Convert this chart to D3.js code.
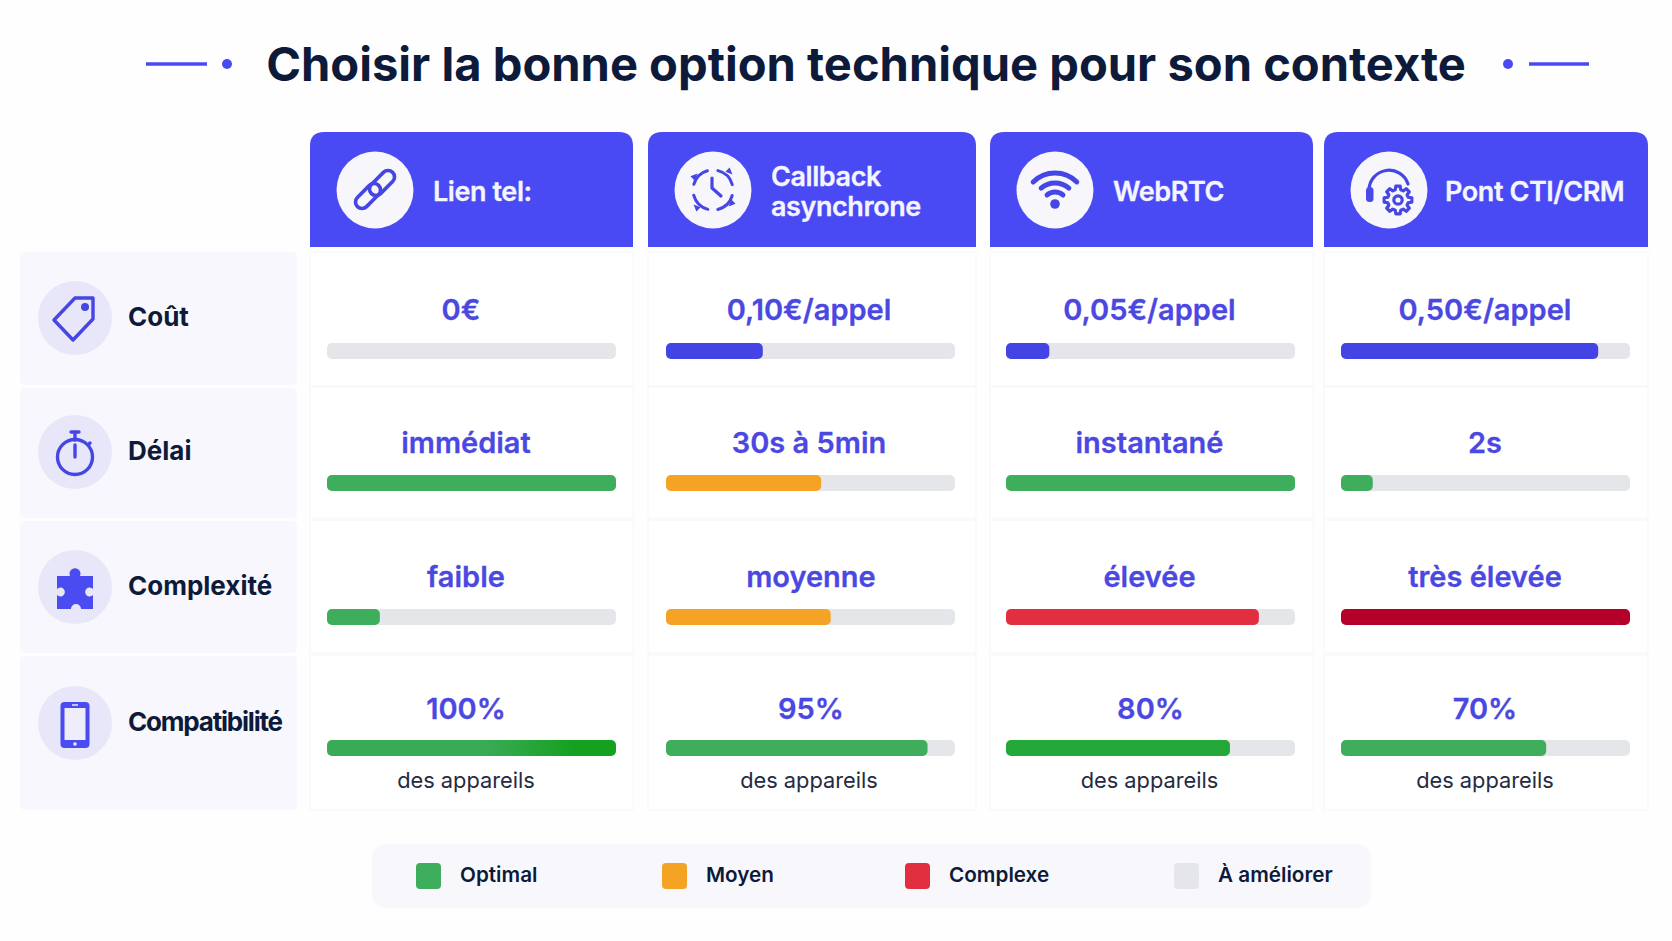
<!DOCTYPE html>
<html>
<head>
<meta charset="utf-8">
<script src="https://cdn.jsdelivr.net/npm/d3@7"></script>
<style>
  html, body { margin: 0; padding: 0; background: #fefefe; }
  svg { display: block; font-family: Inter, "Noto Sans", sans-serif; }
</style>
</head>
<body>
<svg id="chart"></svg>
<script>
const titleText = 'Choisir la bonne option technique pour son contexte'
const options = ['Lien tel:', 'Callback asynchrone', 'WebRTC', 'Pont CTI/CRM']
const criteria = ['Coût', 'Délai', 'Complexité', 'Compatibilité']

// what is written in each cell
const costLabels = ['0€', '0,10€/appel', '0,05€/appel', '0,50€/appel']
const delayLabels = ['immédiat', '30s à 5min', 'instantané', '2s']
const complexityLabels = ['faible', 'moyenne', 'élevée', 'très élevée']
const compatLabels = ['100%', '95%', '80%', '70%']
const compatNote = 'des appareils'

// bar lengths (share of the grey track)
const costLevels = [0, 0.335, 0.15, 0.89]
const delayLevels = [1, 0.537, 1, 0.11]
const complexityLevels = [0.183, 0.57, 0.875, 1]
const compatLevels = [1, 0.905, 0.775, 0.71]

const costStatus = ['cost', 'cost', 'cost', 'cost']
const delayStatus = ['optimal', 'moyen', 'optimal', 'optimal']
const complexityStatus = ['optimal', 'moyen', 'complexe', 'critique']
const compatStatus = ['optimalFade', 'optimal', 'optimalDark', 'optimal']

const legendNames = ['Optimal', 'Moyen', 'Complexe', 'À améliorer']
const legendStatus = ['optimal', 'moyen', 'complexe', 'track']

const rowsData = [
	{labels: costLabels, levels: costLevels, status: costStatus},
	{labels: delayLabels, levels: delayLevels, status: delayStatus},
	{labels: complexityLabels, levels: complexityLevels, status: complexityStatus},
	{labels: compatLabels, levels: compatLevels, status: compatStatus, note: compatNote}
]

const width = 1672
const height = 941
const indigo = '#4a4af4'
const valueBlue = '#4b48e2'
const ink = '#0d1a3a'

const svg = d3.select('#chart').attr('width', width).attr('height', height)

const color = d3.scaleOrdinal()
	.domain(['cost', 'optimal', 'optimalDark', 'optimalFade', 'moyen', 'complexe', 'critique', 'track'])
	.range(['#4343e6', '#3fae5c', '#25a83a', 'url(#fade)', '#f5a324', '#e22f40', '#b5002a', '#e5e6e9'])

const fade = svg.append('defs').append('linearGradient').attr('id', 'fade')
fade.selectAll('stop')
	.data([[0, '#3aab55'], [0.55, '#3aab55'], [0.85, '#16a01f'], [1, '#16a01f']])
	.join('stop')
	.attr('offset', d => d[0])
	.attr('stop-color', d => d[1])

// column and row layout, the table isn't regular so these are ordinal
const colLeft = d3.scaleOrdinal().domain(options).range([310, 648, 990, 1324])
const colRight = d3.scaleOrdinal().domain(options).range([633, 976, 1313, 1648])
const colText = d3.scaleOrdinal().domain(options).range([466, 809, 1149.5, 1485])
const trackLeft = d3.scaleOrdinal().domain(options).range([327, 666, 1006, 1341])
const rowTop = d3.scaleOrdinal().domain(criteria).range([252, 388, 521, 656])
const rowBottom = d3.scaleOrdinal().domain(criteria).range([385, 518, 653, 810])
const rowText = d3.scaleOrdinal().domain(criteria).range([309.5, 442.5, 576.5, 708.5])
const rowBar = d3.scaleOrdinal().domain(criteria).range([343, 475, 609, 740])
const rowIcon = d3.scaleOrdinal().domain(criteria).range([318, 452, 587, 723])
const barWidth = d3.scaleLinear().domain([0, 1]).range([0, 289])

// a few labels sit off the column centre in the original
const labelShift = {'0€': -5, 'moyenne': 2, '95%': 2, '80%': 1}

svg.append('rect').attr('width', width).attr('height', height).attr('fill', '#fefefe')

// title with its two little ornaments
svg.append('text')
	.attr('x', 866).attr('y', 64).attr('dy', '0.36em')
	.attr('text-anchor', 'middle')
	.attr('font-size', 47.1).attr('font-weight', 700).attr('fill', ink)
	.text(titleText)
const ornaments = svg.append('g').attr('fill', indigo).attr('stroke', indigo)
ornaments.selectAll('line')
	.data([[146, 207], [1529, 1589]])
	.join('line')
	.attr('x1', d => d[0]).attr('x2', d => d[1])
	.attr('y1', 64).attr('y2', 64)
	.attr('stroke-width', 3.5)
ornaments.selectAll('circle')
	.data([227, 1508])
	.join('circle')
	.attr('cx', d => d).attr('cy', 64).attr('r', 5).attr('stroke', 'none')

// header blocks
const headerTop = 132
const headerBottom = 247
const headerIconX = d3.scaleOrdinal().domain(options).range([375, 713, 1055, 1389])
const headerTextX = d3.scaleOrdinal().domain(options).range([433, 771, 1113, 1445])
const headerLines = [['Lien tel:'], ['Callback', 'asynchrone'], ['WebRTC'], ['Pont CTI/CRM']]

const headers = svg.append('g').selectAll('g')
	.data(options)
	.join('g')
headers.append('path')
	.attr('fill', indigo)
	.attr('d', d => {
		const x0 = colLeft(d), x1 = colRight(d), r = 14
		return `M${x0},${headerBottom}V${headerTop + r}Q${x0},${headerTop} ${x0 + r},${headerTop}H${x1 - r}Q${x1},${headerTop} ${x1},${headerTop + r}V${headerBottom}Z`
	})
headers.append('circle')
	.attr('cx', d => headerIconX(d)).attr('cy', 190).attr('r', 38.5)
	.attr('fill', '#f6f6fb')
headers.each(function(d, i) {
	const lines = headerLines[i]
	d3.select(this).selectAll('text')
		.data(lines)
		.join('text')
		.attr('x', headerTextX(d))
		.attr('y', (l, j) => 191 + (j - (lines.length - 1) / 2) * 30)
		.attr('dy', '0.36em')
		.attr('font-size', 27).attr('font-weight', 600).attr('fill', '#f5f5ff')
		.attr('stroke', '#f5f5ff').attr('stroke-width', 0.3)
		.attr('letter-spacing', -0.42)
		.text(l => l)
})

// icons, each is drawn around 0,0 and stroked in indigo
const iconStroke = g => g.attr('fill', 'none').attr('stroke', '#4646e4')
	.attr('stroke-linecap', 'round').attr('stroke-linejoin', 'round')

function gearPath(cx, cy, teeth, outer, inner) {
	const pts = []
	for (let i = 0; i < teeth; i++) {
		const a = i / teeth * 2 * Math.PI
		const step = 2 * Math.PI / teeth
		;[[-0.34, inner], [-0.2, outer], [0.2, outer], [0.34, inner]].forEach(([k, r]) => {
			pts.push([cx + r * Math.cos(a + k * step), cy + r * Math.sin(a + k * step)])
		})
	}
	return d3.line().curve(d3.curveLinearClosed)(pts)
}

const headerIcons = [
	g => {
		iconStroke(g).attr('stroke-width', 3.6)
		g.selectAll('rect').data([[-7, 6], [7, -7]]).join('rect')
			.attr('x', -15).attr('y', -6.5).attr('width', 30).attr('height', 13).attr('rx', 6.5)
			.attr('transform', d => `translate(${d[0]},${d[1]}) rotate(-45)`)
	},
	g => {
		iconStroke(g).attr('stroke-width', 3)
		const arc = d3.arc().innerRadius(20).outerRadius(20)
		g.selectAll('path').data([[0.25, 1.3], [1.85, 2.9], [3.4, 4.45], [5, 6]]).join('path')
			.attr('d', d => arc({startAngle: d[0], endAngle: d[1]}))
		// small arrow heads at the ends of the dashes
		g.append('g').attr('fill', '#4646e4').attr('stroke', 'none')
			.selectAll('path')
			.data([[17, -18, 45], [18, 14, 135], [-17, 17, 225], [-18, -14, 315]])
			.join('path')
			.attr('transform', d => `translate(${d[0]},${d[1]}) rotate(${d[2]})`)
			.attr('d', 'M-3.5,-3L3.5,0L-3.5,3Z')
		g.append('path').attr('stroke-width', 3.2).attr('d', 'M-1,-12V-2L8,6')
	},
	g => {
		iconStroke(g).attr('stroke-width', 5)
		g.selectAll('path').data([[31, 0.78], [21, 0.72], [12, 0.72]]).join('path')
			.attr('transform', 'translate(0,14)')
			.attr('d', d => d3.arc().innerRadius(d[0]).outerRadius(d[0])({startAngle: -d[1], endAngle: d[1]}))
		g.append('circle').attr('cy', 14).attr('r', 4.8).attr('fill', '#4646e4').attr('stroke', 'none')
	},
	g => {
		iconStroke(g).attr('stroke-width', 3.2)
		g.append('path').attr('d', 'M-20,0A20,20 0 0 1 19,-6')
		g.append('rect').attr('x', -23).attr('y', -3).attr('width', 7.5).attr('height', 15).attr('rx', 3.5)
			.attr('fill', '#4a4ae8').attr('stroke', 'none')
		g.append('path').attr('d', gearPath(9, 10, 8, 14, 10.5))
		g.append('circle').attr('cx', 9).attr('cy', 10).attr('r', 4.2)
	}
]

headers.append('g')
	.attr('transform', d => `translate(${headerIconX(d)},190)`)
	.each(function(d, i) { headerIcons[i](d3.select(this)) })

const rowIcons = [
	g => {
		iconStroke(g).attr('stroke-width', 3.4)
		g.append('path').attr('d', 'M0,-20H18V1L-2,22L-21,2Z')
		g.append('circle').attr('cx', 10).attr('cy', -11).attr('r', 4).attr('fill', '#4646e4').attr('stroke', 'none')
	},
	g => {
		iconStroke(g).attr('stroke-width', 3.4)
		g.append('circle').attr('cy', 5).attr('r', 17.5)
		g.append('path').attr('d', 'M-4,-20H4M0,-20V-12M14,-8L15,-9')
		g.append('path').attr('d', 'M0,-7V5')
	},
	g => {
		g.append('path').attr('fill', '#4b4bf2').attr('d',
			'M-18,-11H-5A5.5,5.5 0 1 1 5,-11H18V2A4.5,4.5 0 1 0 18,8V22H6A5,5 0 1 0 -4,22H-18V8A4.5,4.5 0 1 0 -18,2Z')
	},
	g => {
		g.append('rect').attr('x', -14.5).attr('y', -21).attr('width', 29).attr('height', 46).attr('rx', 4).attr('fill', '#4b4bf2')
		g.append('rect').attr('x', -10.5).attr('y', -15).attr('width', 21).attr('height', 32).attr('fill', '#eeeefb')
		g.append('circle').attr('cy', 21).attr('r', 1.8).attr('fill', '#eeeefb')
		g.append('line').attr('x1', -3).attr('x2', 3).attr('y1', -18).attr('y2', -18).attr('stroke', '#eeeefb').attr('stroke-width', 1.5)
	}
]

// left label column
const labels = svg.append('g').selectAll('g')
	.data(criteria)
	.join('g')
labels.append('rect')
	.attr('x', 20).attr('width', 277)
	.attr('y', d => rowTop(d))
	.attr('height', d => rowBottom(d) - rowTop(d))
	.attr('rx', 5)
	.attr('fill', '#f7f7fd')
labels.append('circle')
	.attr('cx', 75).attr('cy', d => rowIcon(d)).attr('r', 37)
	.attr('fill', '#e7e7f9')
labels.append('g')
	.attr('transform', d => `translate(75,${rowIcon(d)})`)
	.each(function(d, i) { rowIcons[i](d3.select(this)) })
labels.append('text')
	.attr('x', 128).attr('y', d => rowIcon(d) - 1).attr('dy', '0.36em')
	.attr('font-size', 26).attr('font-weight', 700).attr('fill', ink)
	.attr('letter-spacing', d => d === 'Compatibilité' ? -1.2 : 0)
	.text(d => d)

// value cells
const rows = svg.append('g').selectAll('g')
	.data(rowsData)
	.join('g')
rows.each(function(row, r) {
	const rowName = criteria[r]
	const cells = d3.select(this).selectAll('g')
		.data(options.map((o, c) => ({option: o, label: row.labels[c], level: row.levels[c], status: row.status[c], note: row.note})))
		.join('g')
	cells.append('rect')
		.attr('x', d => colLeft(d.option))
		.attr('width', d => colRight(d.option) - colLeft(d.option))
		.attr('y', rowTop(rowName) - (r === 0 ? 0 : 1))
		.attr('height', rowBottom(rowName) - rowTop(rowName) + 1)
		.attr('fill', '#ffffff').attr('stroke', '#f6f6f9')
	cells.append('text')
		.attr('x', d => colText(d.option) + (labelShift[d.label] || 0))
		.attr('y', rowText(rowName)).attr('dy', '0.36em')
		.attr('text-anchor', 'middle')
		.attr('font-size', 29).attr('font-weight', 600).attr('fill', valueBlue)
		.attr('stroke', valueBlue).attr('stroke-width', 0.3)
		.text(d => d.label)
	cells.append('rect')
		.attr('x', d => trackLeft(d.option))
		.attr('y', rowBar(rowName))
		.attr('width', barWidth(1)).attr('height', 16).attr('rx', 5)
		.attr('fill', color('track'))
	cells.filter(d => d.level > 0).append('rect')
		.attr('x', d => trackLeft(d.option))
		.attr('y', rowBar(rowName))
		.attr('width', d => barWidth(d.level)).attr('height', 16).attr('rx', 5)
		.attr('fill', d => color(d.status))
	cells.filter(d => d.note).append('text')
		.attr('x', d => colText(d.option))
		.attr('y', 780).attr('dy', '0.36em')
		.attr('text-anchor', 'middle')
		.attr('font-size', 21.8).attr('font-weight', 400).attr('fill', '#252b42')
		.text(d => d.note)
})

// legend
const legendBox = svg.append('g')
legendBox.append('rect')
	.attr('x', 372).attr('y', 844).attr('width', 999).attr('height', 64).attr('rx', 14)
	.attr('fill', '#f8f8fc')
const legendX = d3.scaleOrdinal().domain(legendNames).range([416, 662, 905, 1174])
const legendItems = legendBox.selectAll('g')
	.data(legendNames)
	.join('g')
legendItems.append('rect')
	.attr('x', d => legendX(d)).attr('y', 863)
	.attr('width', 25).attr('height', 26).attr('rx', 4)
	.attr('fill', (d, i) => color(legendStatus[i]))
legendItems.append('text')
	.attr('x', d => legendX(d) + 44).attr('y', 875).attr('dy', '0.36em')
	.attr('font-size', 20.7).attr('font-weight', 600).attr('fill', ink)
	.text(d => d)
</script>
</body>
</html>
